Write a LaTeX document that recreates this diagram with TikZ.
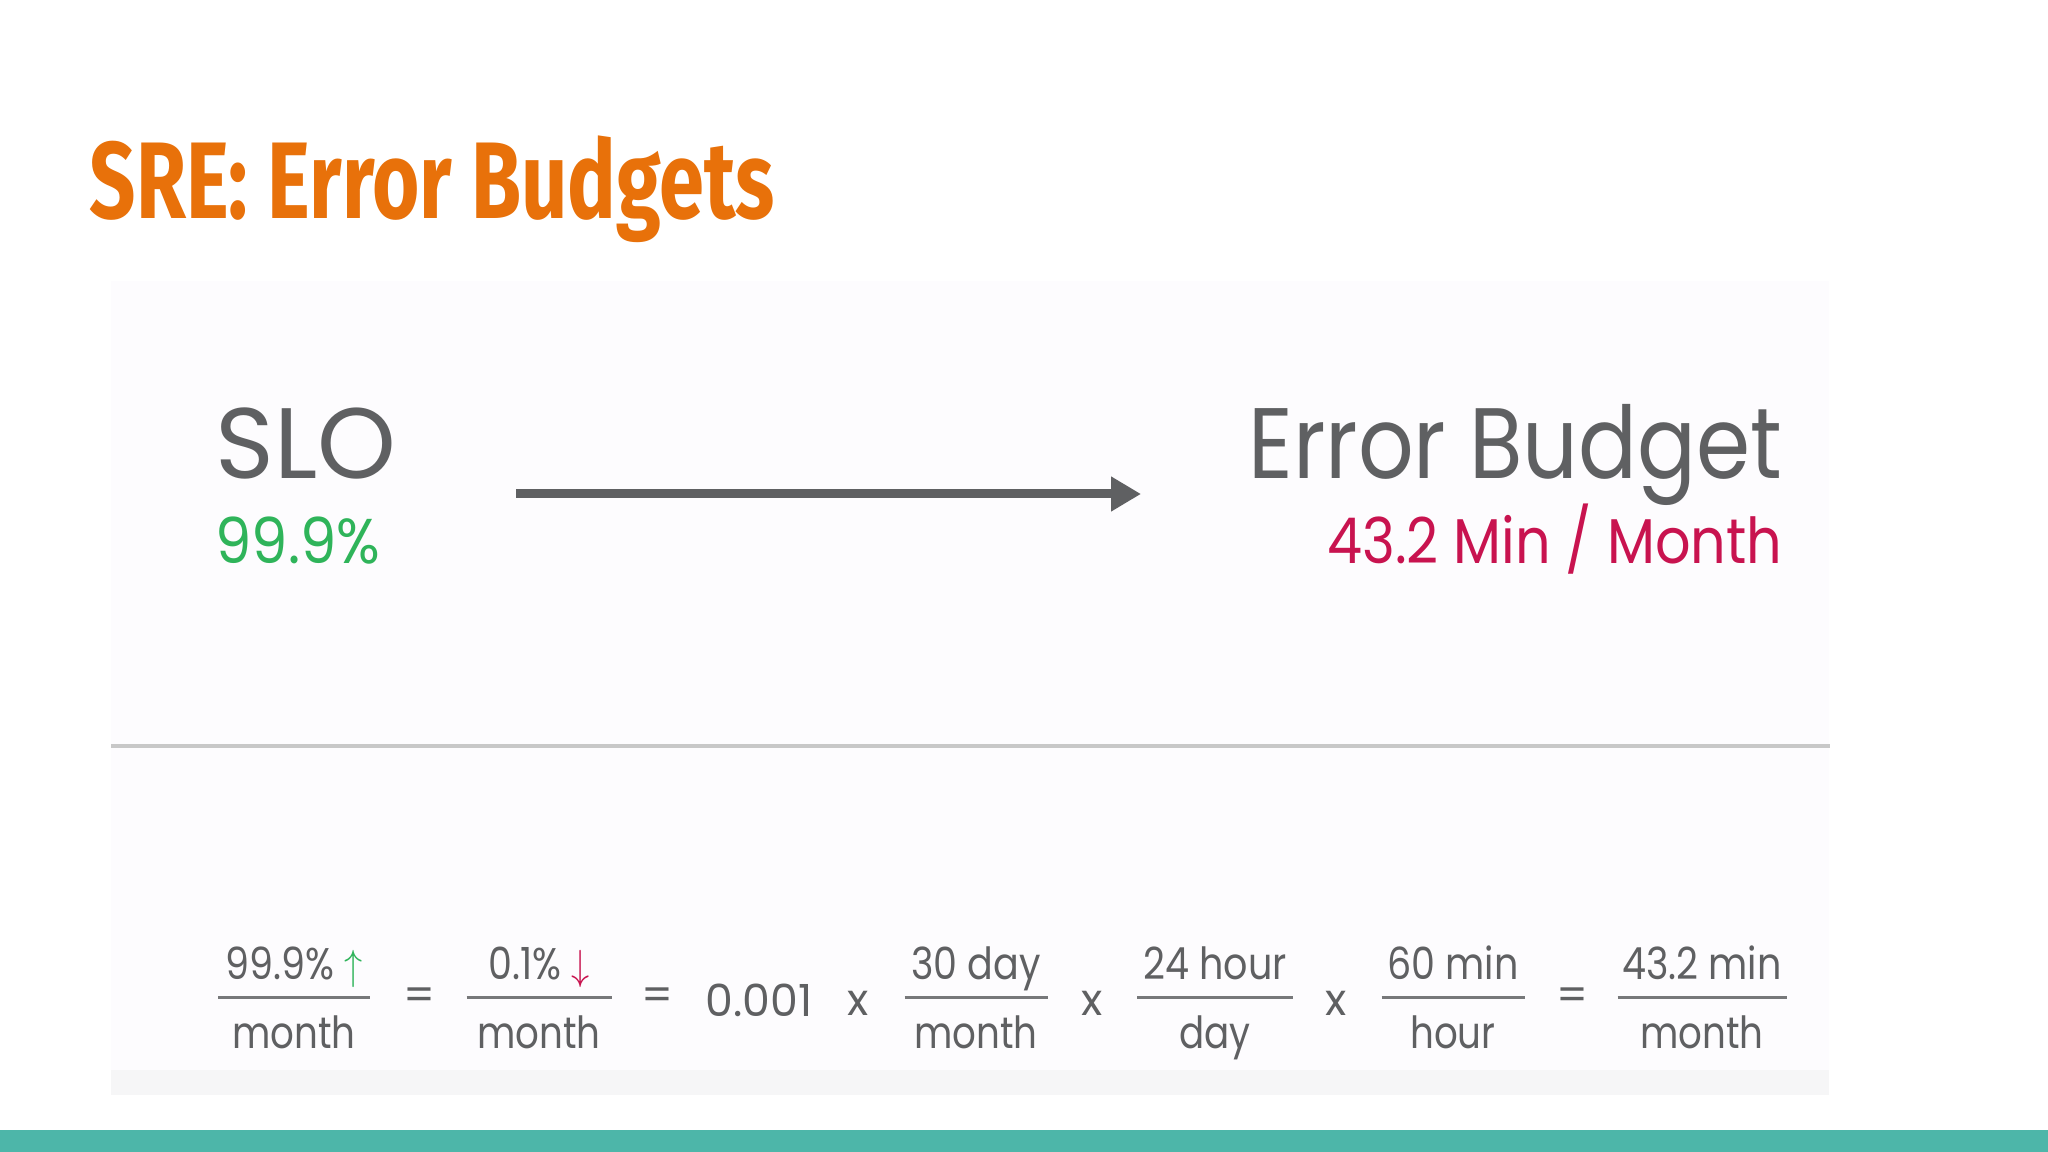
\documentclass[tikz,border=0pt]{standalone}
\usepackage{fontspec}
\setmainfont{Poppins}
\newfontfamily\titlefont{Fira Sans}
\usepackage{tikz}
\usetikzlibrary{arrows.meta}
\usetikzlibrary{positioning}

\definecolor{titleorange}{HTML}{E8710A}
\definecolor{labelgray}{HTML}{5F6062}
\definecolor{slogreen}{HTML}{2FB45A}
\definecolor{budgetred}{HTML}{C8134F}
\definecolor{rulegray}{HTML}{C8C8C8}
\definecolor{panelbg}{HTML}{FDFCFE}
\definecolor{panelshade}{HTML}{F6F6F7}
\definecolor{barteal}{HTML}{4DB6A9}

\newcommand{\narrow}[2]{\scalebox{#1}[1]{#2}}

\tikzset{
  bigword/.style={inner sep=0pt, text=labelgray, font=\fontsize{28.5pt}{30pt}\selectfont},
  bigvalue/.style={inner sep=0pt, font=\fontsize{18pt}{20pt}\selectfont},
  eqtext/.style={inner sep=0pt, text=labelgray, font=\fontsize{12.6pt}{14pt}\selectfont},
  fracbar/.style={draw=labelgray!85, line width=0.3mm},
  flowarrow/.style={draw=labelgray, line width=0.9mm, -{Triangle[length=3mm,width=3.3mm]}}
}

\begin{document}
\begin{tikzpicture}[x=0.1mm, y=-0.1mm]
  \useasboundingbox (0,0) rectangle (2048,1152);
  \fill[white] (0,0) rectangle (2048,1152);
  % panel
  \fill[panelbg] (111,281) rectangle (1829,1095);
  \fill[panelshade] (111,1070) rectangle (1829,1095);
  \fill[barteal] (0,1130) rectangle (2048,1152);

  % title
  \node[inner sep=0pt, anchor=base west, text=titleorange] (title) at (89,219)
    {\narrow{0.745}{\titlefont\bfseries\fontsize{31pt}{34pt}\selectfont SRE: Error Budgets}};

  % slo and budget
  \node[bigword, anchor=base west] (slo) at (215,479) {SLO};
  \node[bigvalue, anchor=base west, text=slogreen] (slovalue) at (215,564) {\narrow{0.91}{99.9\%}};
  \node[bigword, anchor=base east] (budget) at (1783,479) {\narrow{0.87}{Error Budget}};
  \node[bigvalue, anchor=base east, text=budgetred] (budgetvalue) at (1783,564) {\narrow{0.88}{43.2 Min / Month}};

  \coordinate (arrowtail) at (516,494);
  \coordinate (arrowtip) at (1141,494);
  \draw[flowarrow] (arrowtail) -- (arrowtip);

  \draw[rulegray, line width=0.4mm] (111,746) -- (1830,746);

  % equation
  \foreach \x/\w/\num/\den [count=\i] in {
      294/152/{99.9\% \textcolor{slogreen}{$\uparrow$}}/month,
      539/145/{0.1\% \textcolor{budgetred}{$\downarrow$}}/month,
      976/143/{30 day}/month,
      1215/156/{24 hour}/day,
      1453/143/{60 min}/hour,
      1702/169/{43.2 min}/month} {
    \node[eqtext, anchor=base] (num\i) at (\x,980) {\narrow{0.86}{\num}};
    \draw[fracbar] (\x-\w/2,998) -- (\x+\w/2,998);
    \node[eqtext, anchor=base] (den\i) at (\x,1049) {\narrow{0.84}{\den}};
  }
  \node[eqtext] (eqa) at (420,999) {=};
  \node[eqtext] (eqb) at (657,999) {=};
  \node[eqtext, anchor=base] (factor) at (759,1017) {0.001};
  \node[eqtext, anchor=base] (timesa) at (858,1016) {x};
  \node[eqtext, anchor=base] (timesb) at (1092,1016) {x};
  \node[eqtext, anchor=base] (timesc) at (1336,1016) {x};
  \node[eqtext] (eqc) at (1572,999) {=};
\end{tikzpicture}
\end{document}
